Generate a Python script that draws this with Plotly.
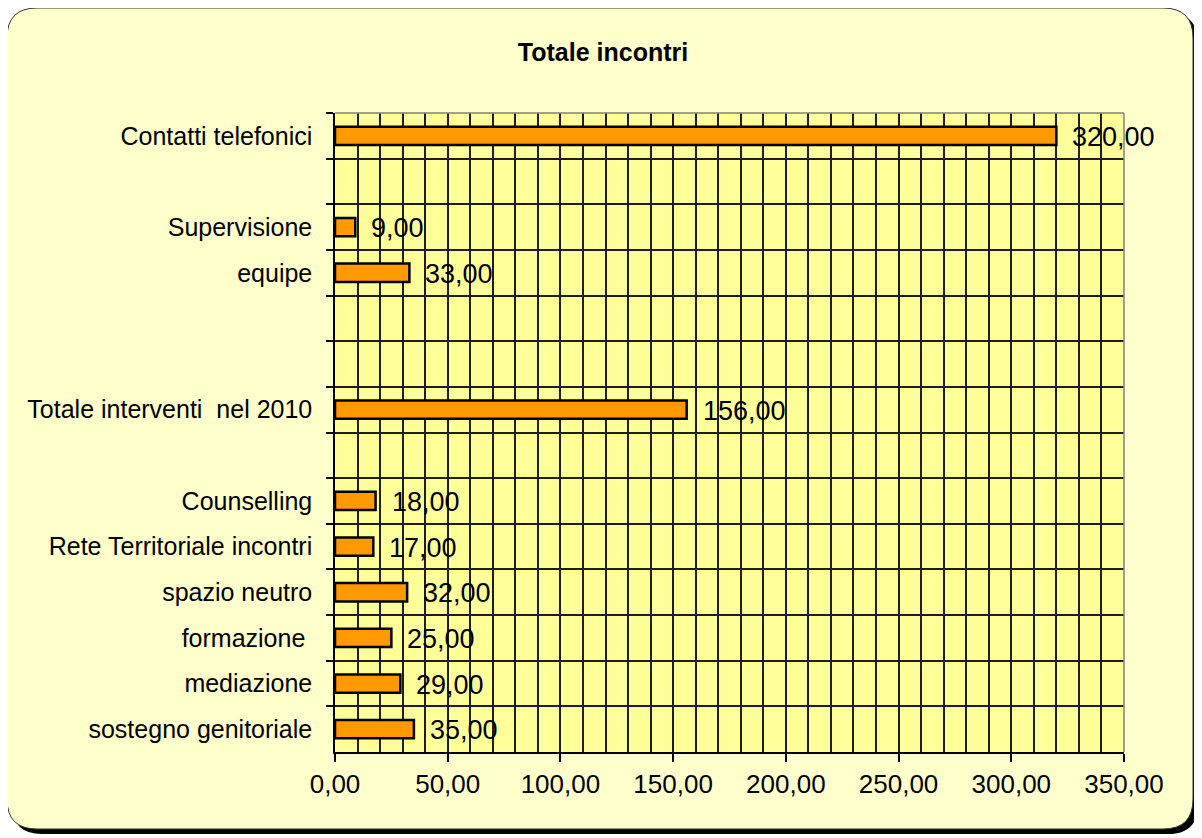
import plotly.graph_objects as go

# ---- data (top-to-bottom order) ----
categories = [
    "Contatti telefonici", "\u00a0", "Supervisione", "equipe", "\u00a0\u00a0", "\u00a0\u00a0\u00a0",
    "Totale interventi\u00a0\u00a0nel 2010", "\u00a0\u00a0\u00a0\u00a0", "Counselling",
    "Rete Territoriale incontri", "spazio neutro", "formazione\u00a0", "mediazione",
    "sostegno genitoriale",
]
values = [320, None, 9, 33, None, None, 156, None, 18, 17, 32, 25, 29, 35]
x_ticks = [0, 50, 100, 150, 200, 250, 300, 350]
title_text = "Totale incontri"

# ---- geometry (page pixels; the page body has an 8px margin) ----
OFF = 8
W, H = 1202 - OFF, 838 - OFF
L, R, T, B = 335 - OFF, 1124 - OFF, 113 - OFF, 752 - OFF
pw, ph = R - L, B - T

def px2paper(x, y):
    x -= OFF
    y -= OFF
    return (x - L) / pw, (B - y) / ph

def rounded_rect(x0, y0, x1, y1, r):
    ax0, top = px2paper(x0, y0)
    ax1, bot = px2paper(x1, y1)
    rx, ry = r / pw, r / ph
    return (f"M {ax0 + rx},{top} L {ax1 - rx},{top} Q {ax1},{top} {ax1},{top - ry} "
            f"L {ax1},{bot + ry} Q {ax1},{bot} {ax1 - rx},{bot} "
            f"L {ax0 + rx},{bot} Q {ax0},{bot} {ax0},{bot + ry} "
            f"L {ax0},{top - ry} Q {ax0},{top} {ax0 + rx},{top} Z")

shapes = [
    dict(type="path", xref="paper", yref="paper", layer="below",
         path=rounded_rect(12, 13, 1198, 834, 30), fillcolor="black",
         line=dict(width=0)),
    dict(type="path", xref="paper", yref="paper", layer="below",
         path=rounded_rect(7, 8, 1193, 829, 30), fillcolor="#FFFFCC",
         line=dict(color="#333333", width=1)),
    dict(type="rect", xref="paper", yref="paper", layer="below",
         x0=0, x1=1, y0=0, y1=1, fillcolor="#FFFF99", line=dict(width=0)),
    dict(type="line", xref="paper", yref="paper", x0=0, x1=1, y0=1, y1=1,
         line=dict(color="#808080", width=1.5)),
    dict(type="line", xref="paper", yref="paper", x0=1, x1=1, y0=0, y1=1,
         line=dict(color="#808080", width=1.5)),
]

FONT = "Liberation Sans, Arial, sans-serif"
GRID = "#1e1e1e"

fig = go.Figure()
fig.add_trace(go.Bar(
    x=values, y=categories, orientation="h",
    marker=dict(color="#FF9900", line=dict(color="black", width=2.5)),
    width=0.4, hoverinfo="x+y",
))

annotations = []
for c, v in zip(categories, values):
    if v is None:
        continue
    annotations.append(dict(
        x=v, y=c, xref="x", yref="y", text=f"{v:.2f}".replace(".", ","),
        showarrow=False, xanchor="left", yanchor="middle", xshift=14, yshift=-1,
        font=dict(family=FONT, size=27, color="black"),
    ))

fig.update_layout(
    width=W, height=H,
    margin=dict(l=L, r=W - R, t=T, b=H - B, pad=0),
    paper_bgcolor="white", plot_bgcolor="rgba(0,0,0,0)",
    separators=",.",
    showlegend=False,
    font=dict(family=FONT, size=25, color="black"),
    title=dict(text=f"<b>{title_text}</b>", x=(603 - OFF) / W, xanchor="center",
               y=1 - (52 - OFF) / H, yanchor="middle", yref="container",
               font=dict(size=25, color="black")),
    shapes=shapes,
    annotations=annotations,
    xaxis=dict(
        range=[0, 350], tickvals=x_ticks, tickformat=".2f",
        showline=True, linecolor="black", linewidth=1.5,
        ticks="outside", ticklen=8, tickcolor="black", tickwidth=1.5,
        showgrid=True, gridcolor=GRID, gridwidth=1.5,
        minor=dict(dtick=10, showgrid=True, gridcolor=GRID, gridwidth=1.5, ticks=""),
        zeroline=False, fixedrange=True,
        tickfont=dict(size=26),
    ),
    yaxis=dict(
        type="category", categoryorder="array", categoryarray=categories,
        autorange="reversed", tickson="boundaries",
        showline=True, linecolor="black", linewidth=1.5,
        ticks="outside", ticklen=7, tickcolor="black", tickwidth=1.5,
        showgrid=True, gridcolor=GRID, gridwidth=1.5,
        zeroline=False, ticklabelstandoff=16,
        tickfont=dict(size=25),
    ),
)

fig.write_html("out.html")
